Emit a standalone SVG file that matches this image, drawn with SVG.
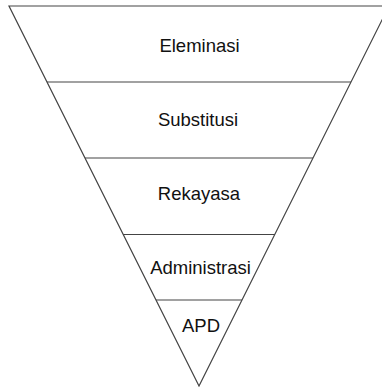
<svg xmlns="http://www.w3.org/2000/svg" width="382" height="387" viewBox="0 0 382 387">
<style>
.e{fill:none;stroke:#444;stroke-width:1.2}
.t{font-family:"Liberation Sans",Arial,sans-serif;font-size:18.5px;fill:#111;text-anchor:middle}
</style>
<rect width="382" height="387" fill="#fff"/>
<g id="connectors">
<polygon class="e" points="9,6 389,6 199,386"/>
<line class="e" x1="47" y1="82" x2="351" y2="82"/>
<line class="e" x1="85" y1="158" x2="313" y2="158"/>
<line class="e" x1="123" y1="234.5" x2="275" y2="234.5"/>
<line class="e" x1="156" y1="300" x2="242" y2="300"/>
</g>
<g id="eleminasi"><text class="t" x="199.5" y="52">Eleminasi</text></g>
<g id="substitusi"><text class="t" x="198" y="126">Substitusi</text></g>
<g id="rekayasa"><text class="t" x="199" y="200">Rekayasa</text></g>
<g id="administrasi"><text class="t" x="200.5" y="274">Administrasi</text></g>
<g id="apd"><text class="t" x="201" y="332">APD</text></g>
</svg>
